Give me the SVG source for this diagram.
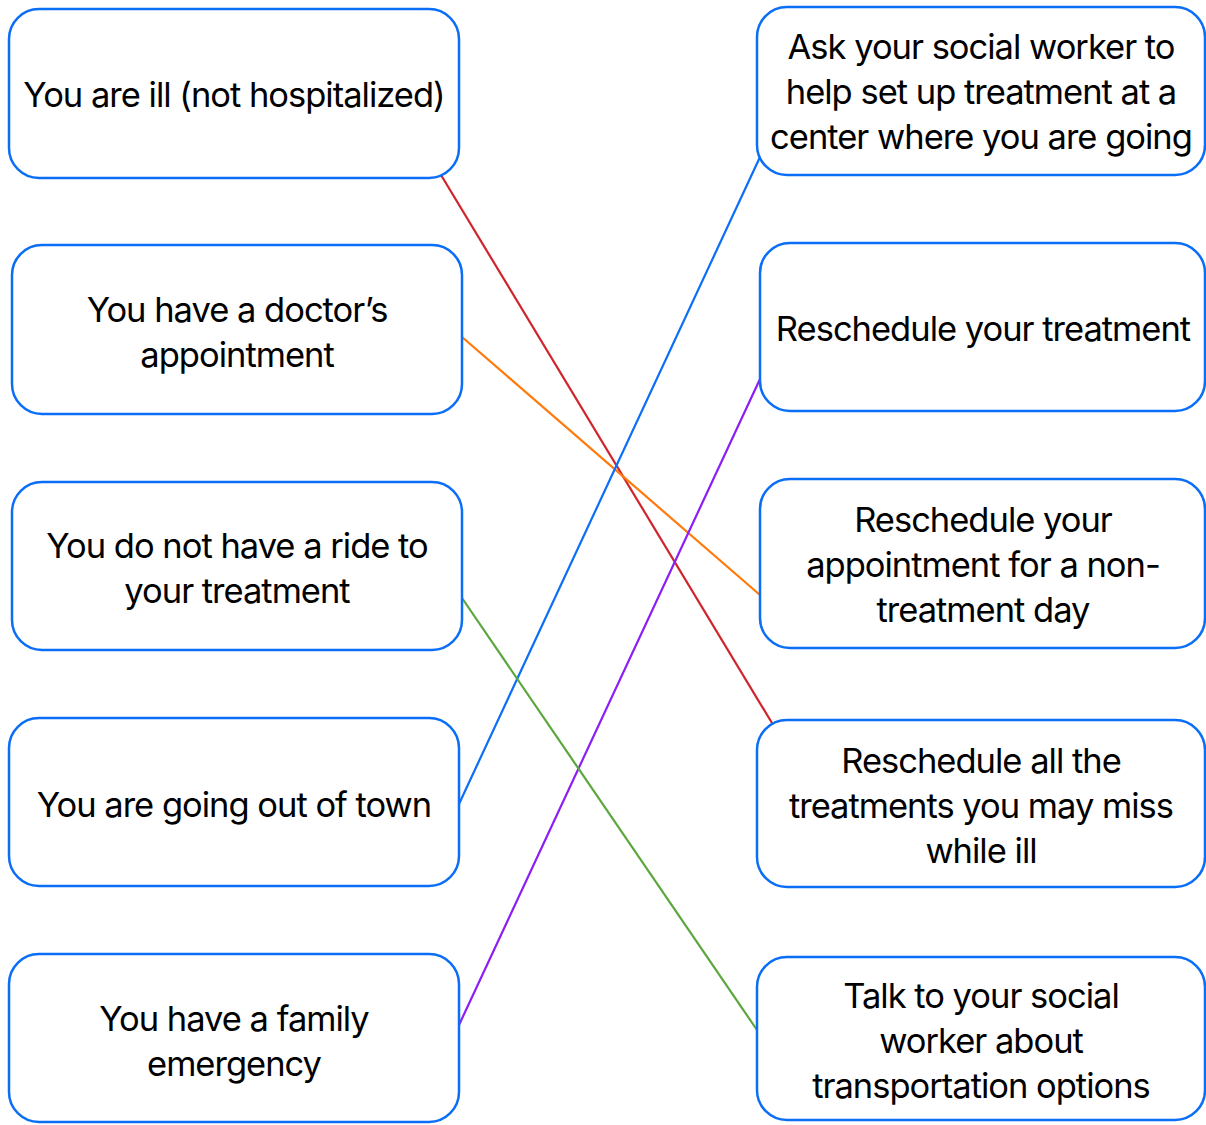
<svg xmlns="http://www.w3.org/2000/svg" width="1206" height="1125" viewBox="0 0 1206 1125">
<style>
.box{fill:#fff;stroke:#0A6EF6;stroke-width:2.5}
.t{font-family:Inter,"Liberation Sans",sans-serif;font-size:34.5px;letter-spacing:-1px;fill:#000;text-anchor:middle}
.c{fill:none;stroke-width:2.2}
</style>
<rect width="1206" height="1125" fill="#fff"/>
<g id="connectors">
<line class="c" x1="441" y1="175" x2="772" y2="723" stroke="#D0242C"/>
<line class="c" x1="462" y1="337" x2="760" y2="595" stroke="#FF7A0A"/>
<line class="c" x1="459" y1="804" x2="760" y2="157" stroke="#0A6EF6"/>
<line class="c" x1="459" y1="1025" x2="760" y2="379" stroke="#8A1EF5"/>
<line class="c" x1="462" y1="598" x2="757" y2="1030" stroke="#5CA63E"/>
</g>
<g id="n1"><rect class="box" x="9" y="9" width="450" height="169" rx="30"/><text class="t" x="234" y="107">You are ill (not hospitalized)</text></g>
<g id="n2"><rect class="box" x="12" y="245" width="450" height="169" rx="30"/><text class="t" x="237" y="322">You have a doctor’s</text><text class="t" x="237" y="367">appointment</text></g>
<g id="n3"><rect class="box" x="12" y="482" width="450" height="168" rx="30"/><text class="t" x="237" y="558">You do not have a ride to</text><text class="t" x="237" y="603">your treatment</text></g>
<g id="n4"><rect class="box" x="9" y="718" width="450" height="168" rx="30"/><text class="t" x="234" y="817">You are going out of town</text></g>
<g id="n5"><rect class="box" x="9" y="954" width="450" height="168" rx="30"/><text class="t" x="234" y="1031">You have a family</text><text class="t" x="234" y="1076">emergency</text></g>
<g id="m1"><rect class="box" x="757" y="7" width="448" height="168" rx="30"/><text class="t" x="981" y="59">Ask your social worker to</text><text class="t" x="981" y="104">help set up treatment at a</text><text class="t" x="981" y="149">center where you are going</text></g>
<g id="m2"><rect class="box" x="760" y="243" width="445" height="168" rx="30"/><text class="t" x="983" y="341">Reschedule your treatment</text></g>
<g id="m3"><rect class="box" x="760" y="479" width="445" height="169" rx="30"/><text class="t" x="983" y="532">Reschedule your</text><text class="t" x="983" y="577">appointment for a non-</text><text class="t" x="983" y="622">treatment day</text></g>
<g id="m4"><rect class="box" x="757" y="720" width="448" height="167" rx="30"/><text class="t" x="981" y="773">Reschedule all the</text><text class="t" x="981" y="818">treatments you may miss</text><text class="t" x="981" y="863">while ill</text></g>
<g id="m5"><rect class="box" x="757" y="957" width="448" height="163" rx="30"/><text class="t" x="981" y="1008">Talk to your social</text><text class="t" x="981" y="1053">worker about</text><text class="t" x="981" y="1098">transportation options</text></g>
</svg>
